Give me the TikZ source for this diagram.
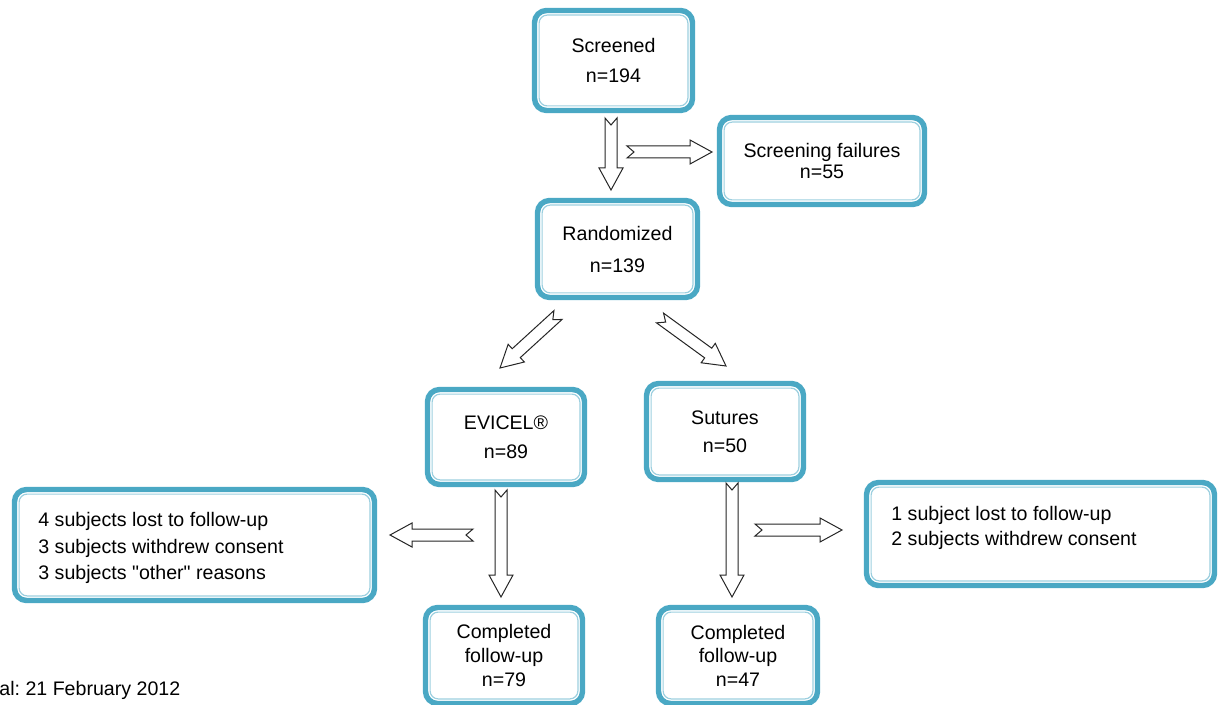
\documentclass[tikz,border=0pt]{standalone}
\usepackage{fontspec}
\setmainfont{Liberation Sans}[Ligatures=TeXOff]
\usetikzlibrary{calc}
\frenchspacing

\definecolor{boxblue}{RGB}{74,168,196}

% hollow block arrow with a notched tail, from #1 to #2
\newcommand\blockarrow[2]{%
  \draw[arrowline] ($(#1)!3pt!90:(#2)$) -- ($(#1)!3.5pt!(#2)$) -- ($(#1)!3pt!-90:(#2)$)
    -- ($(#2)!11pt!(#1)!3pt!90:(#1)$) -- ($(#2)!11pt!(#1)!6pt!90:(#1)$) -- (#2)
    -- ($(#2)!11pt!(#1)!6pt!-90:(#1)$) -- ($(#2)!11pt!(#1)!3pt!-90:(#1)$) -- cycle;}

\begin{document}
\begin{tikzpicture}[x=0.5pt, y=-0.5pt,
    box/.style={draw=boxblue, line width=2.7pt, rounded corners=6pt, inner sep=0pt,
      align=center, font=\fontsize{9.8}{11.8}\selectfont,
      path picture={\draw[boxblue!55, line width=0.6pt, rounded corners=4pt]
        ([shift={(2.3pt,-2.3pt)}]path picture bounding box.north west) rectangle
        ([shift={(-2.3pt,2.3pt)}]path picture bounding box.south east);}},
    listtext/.style={inner sep=0pt, align=left, font=\fontsize{9.8}{11.8}\selectfont},
    arrowline/.style={draw=black!85, line width=0.5pt, fill=white, line join=miter}]
  \useasboundingbox (0,0) rectangle (1219,705);

  \node[box, minimum width=79pt, minimum height=50pt] (screened) at (613.5,60.5) {Screened\\[3.2pt]n=194};
  \node[box, minimum width=102.5pt, minimum height=43.5pt] (failures) at (822,161) {Screening failures\\[-1.3pt]n=55};
  \node[box, minimum width=80pt, minimum height=48.5pt] (random) at (617.5,249) {Randomized\\[4.2pt]n=139};
  \node[box, minimum width=78.5pt, minimum height=47.5pt] (evicel) at (506,437) {EVICEL®\\[2.7pt]n=89};
  \node[box, minimum width=78.5pt, minimum height=48pt] (sutures) at (725,431.5) {Sutures\\[2.2pt]n=50};
  \node[box, minimum width=180pt, minimum height=55.5pt] (lossL) at (194.5,545) {};
  \node[box, minimum width=174pt, minimum height=51.5pt] (lossR) at (1040.5,534) {};
  \node[box, minimum width=78.5pt, minimum height=48pt] (doneL) at (504,655.5) {Completed\\follow-up\\n=79};
  \node[box, minimum width=79.5pt, minimum height=48pt] (doneR) at (738,655.5) {Completed\\follow-up\\n=47};

  \node[listtext, anchor=north west] (lossLtext) at (38,512) {4 subjects lost to follow-up\\[1.45pt]3 subjects withdrew consent\\[1.45pt]3 subjects "other" reasons};
  \node[listtext, anchor=north west] (lossRtext) at (891,506) {1 subject lost to follow-up\\[0.7pt]2 subjects withdrew consent};
  \node[listtext, anchor=west] (approval) at (-1,690) {al: 21 February 2012};

  \coordinate (a1s) at (611,118);  \coordinate (a1e) at (611,190);
  \coordinate (a2s) at (627,152);  \coordinate (a2e) at (712,152);
  \coordinate (a3s) at (558,315);  \coordinate (a3e) at (500,368);
  \coordinate (a4s) at (660,318);  \coordinate (a4e) at (726,366);
  \coordinate (a5s) at (501,490);  \coordinate (a5e) at (501,597);
  \coordinate (a6s) at (473,535);  \coordinate (a6e) at (390,535);
  \coordinate (a7s) at (732,483);  \coordinate (a7e) at (732,597);
  \coordinate (a8s) at (755,530);  \coordinate (a8e) at (842,530);

  \foreach \i in {1,...,8}
    \blockarrow{a\i s}{a\i e};
\end{tikzpicture}
\end{document}
